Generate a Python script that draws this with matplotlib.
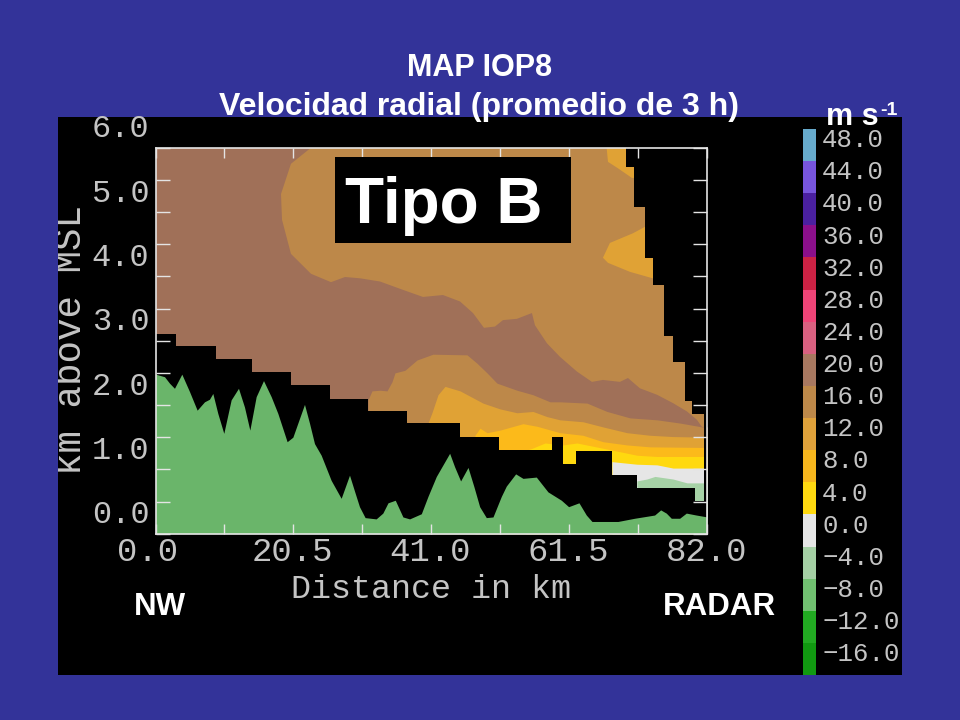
from matplotlib import pyplot as plt
from matplotlib.patches import Rectangle
import numpy as np

# ground height under the beam (km)
terrain_x = [0, 1.34, 2.08, 2.82, 3.91, 5.05, 6.19, 7.28, 8.02, 8.52, 9.26, 10.15, 11.24, 12.33, 13.22, 14.02, 14.96,
             16.05, 17.19, 18.18, 19.56, 20.41, 22.14, 22.88, 23.63, 24.62, 26.10, 27.59, 28.83, 29.67, 30.31, 31.15,
             32.79, 33.78, 34.55, 35.63, 36.77, 37.76, 39.50, 40.49, 41.73, 43.71, 44.45, 45.34, 46.44, 47.32, 48.17,
             49.16, 50.15, 51.39, 52.13, 53.52, 54.61, 56.59, 58.32, 60.31, 61.39, 62.93, 64.02, 64.86, 68.72, 71.20,
             74.17, 75.07, 75.90, 76.65, 77.89, 78.88, 80.36, 82]
terrain_y = [2.48, 2.44, 2.34, 2.26, 2.48, 2.21, 1.92, 2.05, 2.09, 2.18, 1.87, 1.56, 2.08, 2.26, 1.97, 1.61, 2.13,
             2.38, 2.13, 1.87, 1.43, 1.50, 2.01, 1.72, 1.40, 1.22, 0.83, 0.55, 0.91, 0.63, 0.42, 0.25,
             0.23, 0.32, 0.48, 0.52, 0.26, 0.23, 0.31, 0.58, 0.89, 1.25, 1.04, 0.82, 1.03, 0.73, 0.42,
             0.25, 0.26, 0.58, 0.74, 0.93, 0.86, 0.88, 0.65, 0.52, 0.42, 0.48, 0.29, 0.19, 0.19, 0.24,
             0.29, 0.37, 0.32, 0.24, 0.24, 0.32, 0.29, 0.26]

# no-echo steps along the bottom and the right of the section
floor_edges = [0, 3.09, 9.03, 14.34, 20.09, 25.97, 31.58, 37.37, 45.2, 51.04, 58.92, 60.5, 62.44, 67.79, 71.59, 80.21, 82]
floor_tops = [3.10, 2.92, 2.71, 2.51, 2.31, 2.10, 1.91, 1.72, 1.50, 1.30, 1.50, 1.09, 1.29, 0.91, 0.71, 0.51]
side_edges = [0, 1.86, 2.06, 2.67, 3.07, 3.87, 4.28, 5.08, 5.70, 6.0]
side_starts = [81.50, 79.72, 78.63, 76.85, 75.6, 73.97, 72.78, 71.14, 69.91]

# 16 m/s area in the upper part, outlined
tan_top_x = [23.11, 20.13, 18.65, 18.80, 20.13, 23.11, 26.08, 28.16, 30.39, 33.36, 36.78, 39.75, 42.72, 45.25, 47.18,
             48.81, 50.45, 51.63, 53.71, 55.94, 56.39, 58.17, 60.10, 62.63, 64.86, 66.49, 69.02, 70.21, 71.99, 74.52,
             76.90, 78.98, 80.46, 81.20, 82, 82]
tan_top_y = [6.0, 5.75, 5.28, 4.88, 4.35, 4.04, 3.91, 3.99, 3.97, 3.92, 3.79, 3.68, 3.71, 3.61, 3.43,
             3.20, 3.22, 3.32, 3.34, 3.43, 3.24, 2.96, 2.75, 2.52, 2.36, 2.39, 2.36, 2.42, 2.26, 2.16,
             2.03, 1.90, 1.77, 1.66, 1.66, 6.0]

# 12 m/s patches near the top right
patch1_x = [67.04, 67.24, 68.72, 70.80, 72.73, 72.73]
patch1_y = [6.0, 5.78, 5.68, 5.53, 5.53, 6.0]
patch2_x = [72.73, 70.95, 67.53, 66.49, 67.24, 70.51, 73.88, 75.71, 75.71]
patch2_y = [4.77, 4.67, 4.52, 4.29, 4.21, 4.07, 3.97, 3.97, 4.77]

# upper edge of each low level band
band16_x = [31.58, 31.58, 32.17, 33.36, 34.40, 35.14, 35.59, 37.07, 38.86, 41.23, 46.29, 47.77, 49.26, 50.74, 53.71,
            56.09, 58.62, 60.10, 64.12, 67.09, 70.51, 74.52, 77.93, 81.20, 82]
band16_y = [1.92, 2.08, 2.22, 2.23, 2.22, 2.36, 2.50, 2.54, 2.70, 2.79, 2.78, 2.65, 2.50, 2.34, 2.23,
            2.16, 2.05, 2.05, 2.03, 1.90, 1.80, 1.77, 1.72, 1.66, 1.66]
band12_x = [40.49, 41.08, 41.98, 43.02, 45.25, 48.66, 51.19, 53.71, 56.09, 58.17, 60.10, 63.52, 66.49, 70.06, 73.48, 76.90, 82]
band12_y = [1.72, 1.88, 2.16, 2.29, 2.22, 2.03, 1.94, 1.88, 1.90, 1.82, 1.77, 1.74, 1.66, 1.57, 1.53, 1.51, 1.50]
band8_x = [47.47, 48.22, 49.26, 51.19, 54.61, 56.69, 60.10, 63.52, 66.49, 70.06, 73.48, 82]
band8_y = [1.53, 1.64, 1.57, 1.61, 1.71, 1.67, 1.57, 1.53, 1.43, 1.38, 1.35, 1.34]
band4_x = [55.05, 55.80, 57.88, 60.55, 62.63, 67.83, 71.54, 74.52, 82]
band4_y = [1.30, 1.32, 1.41, 1.38, 1.41, 1.30, 1.22, 1.20, 1.20]
band0_x = [67.83, 71.54, 74.52, 76.90, 82]
band0_y = [1.12, 1.08, 1.07, 1.02, 1.02]
bandm4_x = [71.54, 73.03, 74.22, 76.90, 78.98, 82]
bandm4_y = [0.82, 0.85, 0.89, 0.85, 0.79, 0.79]

# colour scale, m/s
levels = [48, 44, 40, 36, 32, 28, 24, 20, 16, 12, 8, 4, 0, -4, -8, -12, -16]
level_colors = ["#66aacc", "#7755dd", "#4a20a0", "#8b0f8b", "#cc2244", "#ee4477", "#d86080", "#a87860", "#bd8849",
                "#dfa13a", "#f7b61d", "#ffd910", "#e6e6e6", "#a5d0a5", "#70c070", "#22aa22", "#119911"]

x_labels = [0.0, 20.5, 41.0, 61.5, 82.0]
y_labels = [0.0, 1.0, 2.0, 3.0, 4.0, 5.0, 6.0]

BLUE = "#333399"
BROWN = "#a07058"
TAN = "#bd8849"
ORANGE = "#e0a235"
AMBER = "#fcba1a"
YELLOW = "#ffd90f"
WHITE = "#e6e6e6"
PALE = "#a6d2a6"
GREEN = "#6ab56a"
LINE = "#e4e4e4"
TEXT = "#c4c4c4"
MONO = "Liberation Mono"
SANS = "Liberation Sans"


def box(left, top, right, bottom):
    return [left / 960, 1 - bottom / 720, (right - left) / 960, (bottom - top) / 720]


fig = plt.figure(figsize=(9.6, 7.2), dpi=100, facecolor=BLUE)

panel = fig.add_axes(box(58, 117, 902, 675), facecolor="black")
panel.set_axis_off()
panel.add_patch(Rectangle((0, 0), 1, 1, transform=panel.transAxes, color="black"))

ax = fig.add_axes(box(155.5, 147.7, 707.3, 533.7), facecolor=BROWN)
ax.set_xlim(0, 82)
ax.set_ylim(0, 6)

ax.fill(tan_top_x, tan_top_y, color=TAN, lw=0)
ax.fill(patch1_x, patch1_y, color=ORANGE, lw=0)
ax.fill(patch2_x, patch2_y, color=ORANGE, lw=0)
for bx, by, col in [(band16_x, band16_y, TAN), (band12_x, band12_y, ORANGE), (band8_x, band8_y, AMBER),
                    (band4_x, band4_y, YELLOW), (band0_x, band0_y, WHITE), (bandm4_x, bandm4_y, PALE)]:
    ax.fill_between(bx, by, 0, color=col, lw=0)

ax.stairs(floor_tops, floor_edges, baseline=0, fill=True, color="black", lw=0)
ax.stairs(side_starts, side_edges, orientation="horizontal", baseline=82, fill=True, color="black", lw=0)
ax.fill_between(terrain_x, terrain_y, 0, color=GREEN, lw=0)

ax.set_xticks(np.arange(0, 82.1, 10.25))
ax.set_yticks(np.arange(0, 6.1, 0.5))
ax.tick_params(axis="x", direction="in", length=7, width=1, color=LINE, top=True, labelbottom=False)
ax.tick_params(axis="y", direction="in", length=10, width=1, color=LINE, right=True, labelleft=False)
for s in ax.spines.values():
    s.set_color(LINE)
    s.set_linewidth(1.2)

for v in y_labels:
    ax.annotate("%.1f" % v, (0, v), xytext=(-6, 18.5), textcoords="offset pixels", ha="right", va="center",
                family=MONO, fontsize=23, color=TEXT, annotation_clip=False)
for v in x_labels:
    ax.annotate("%.1f" % v, (v, 0), xytext=(-8 if v == 0 else -1, -19), textcoords="offset pixels", ha="center",
                va="center", family=MONO, fontsize=24.5, color=TEXT, annotation_clip=False)

cax = fig.add_axes(box(803.3, 129, 902, 675), facecolor="black")
cax.set_axis_off()
cax.set_xlim(0, 1)
cax.set_ylim(-16, 52)
cax.barh(np.array(levels) + 2, 0.126, height=4, align="center", color=level_colors, lw=0)
for v in levels:
    label = ("%.1f" % v).replace("-", "\u2212")
    cax.text(0.19, v + 2.6, label, va="center", ha="left", family=MONO, fontsize=18.5, color=TEXT, clip_on=True)

fig.text(431 / 960, 1 - 589 / 720, "Distance in km", ha="center", va="center", family=MONO, fontsize=24, color=TEXT)
panel.text(71 / 960, 1 - 340 / 720, "km above MSL", transform=fig.transFigure, rotation=90, ha="center", va="center",
           family=MONO, fontsize=27, color=TEXT, clip_on=True)

fig.text(480 / 960, 1 - 76 / 720, "MAP IOP8", ha="center", va="baseline", family=SANS, weight="bold", fontsize=22,
         color="white")
fig.text(479 / 960, 1 - 115 / 720, "Velocidad radial (promedio de 3 h)", ha="center", va="baseline", family=SANS,
         weight="bold", fontsize=23, color="white")
fig.text(826 / 960, 1 - 125 / 720, "m s", ha="left", va="baseline", family=SANS, weight="bold", fontsize=22,
         color="white")
fig.text(880 / 960, 1 - 115 / 720, "-1", ha="left", va="baseline", family=SANS, weight="bold", fontsize=14,
         color="white")

fig.add_artist(Rectangle((335 / 960, 1 - 243 / 720), 236 / 960, 86 / 720, transform=fig.transFigure, color="black",
                         zorder=2, lw=0))
fig.text(345 / 960, 1 - 223 / 720, "Tipo B", ha="left", va="baseline", family=SANS, weight="bold", fontsize=46,
         color="white", zorder=3)
fig.text(134 / 960, 1 - 615 / 720, "NW", ha="left", va="baseline", family=SANS, weight="bold", fontsize=22.5,
         color="white")
fig.text(663 / 960, 1 - 615 / 720, "RADAR", ha="left", va="baseline", family=SANS, weight="bold", fontsize=22.5,
         color="white")

fig.savefig("out.png", dpi=100, facecolor=BLUE)
